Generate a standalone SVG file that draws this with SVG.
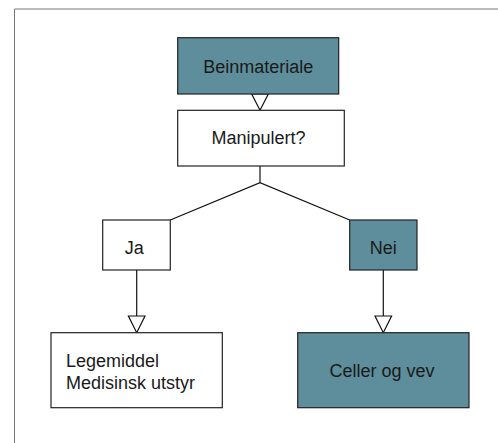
<svg xmlns="http://www.w3.org/2000/svg" width="498" height="443" viewBox="0 0 498 443">
<style>
.box{stroke:#222;stroke-width:1.2}
.teal{fill:#5e8e9b}
.white{fill:#fff}
.lbl{font-family:"Liberation Sans",Arial,sans-serif;font-size:18px;fill:#1a1a1a}
.c{text-anchor:middle}
.conn{stroke:#111;stroke-width:1.2;fill:none}
.arr{fill:#fff;stroke:#111;stroke-width:1.2}
</style>
<rect x="0" y="0" width="498" height="443" fill="#fff"/>
<path d="M14.5 443 V9 H498" fill="none" stroke="#777" stroke-width="1"/>
<g id="connectors">
<line class="conn" x1="260" y1="166" x2="260" y2="182.7"/>
<polyline class="conn" points="170.3,220 260,182.7 349.7,220"/>
<line class="conn" x1="136.7" y1="270" x2="136.7" y2="316"/>
<line class="conn" x1="383.3" y1="270" x2="383.3" y2="316"/>
<polygon class="arr" points="251.7,94 268.3,94 260,110.3"/>
<polygon class="arr" points="128.4,316 145,316 136.7,332.7"/>
<polygon class="arr" points="375,316 391.6,316 383.3,332.7"/>
</g>
<g id="beinmateriale">
<rect class="box teal" x="177.7" y="37.7" width="161" height="56.3"/>
<text class="lbl c" x="258.2" y="73">Beinmateriale</text>
</g>
<g id="manipulert">
<rect class="box white" x="177.7" y="110.3" width="166.6" height="55.7"/>
<text class="lbl c" x="258.5" y="144.3">Manipulert?</text>
</g>
<g id="ja">
<rect class="box white" x="102.7" y="220" width="67.6" height="50"/>
<text class="lbl c" x="134.3" y="254.3">Ja</text>
</g>
<g id="nei">
<rect class="box teal" x="349.7" y="220" width="67.3" height="50"/>
<text class="lbl c" x="383.3" y="254.3">Nei</text>
</g>
<g id="legemiddel">
<rect class="box white" x="51" y="332.7" width="171.3" height="75"/>
<text class="lbl" x="66" y="366.7">Legemiddel</text>
<text class="lbl" x="66" y="389">Medisinsk utstyr</text>
</g>
<g id="celler">
<rect class="box teal" x="297.7" y="332.7" width="171.3" height="75"/>
<text class="lbl c" x="382" y="377.3">Celler og vev</text>
</g>
</svg>
